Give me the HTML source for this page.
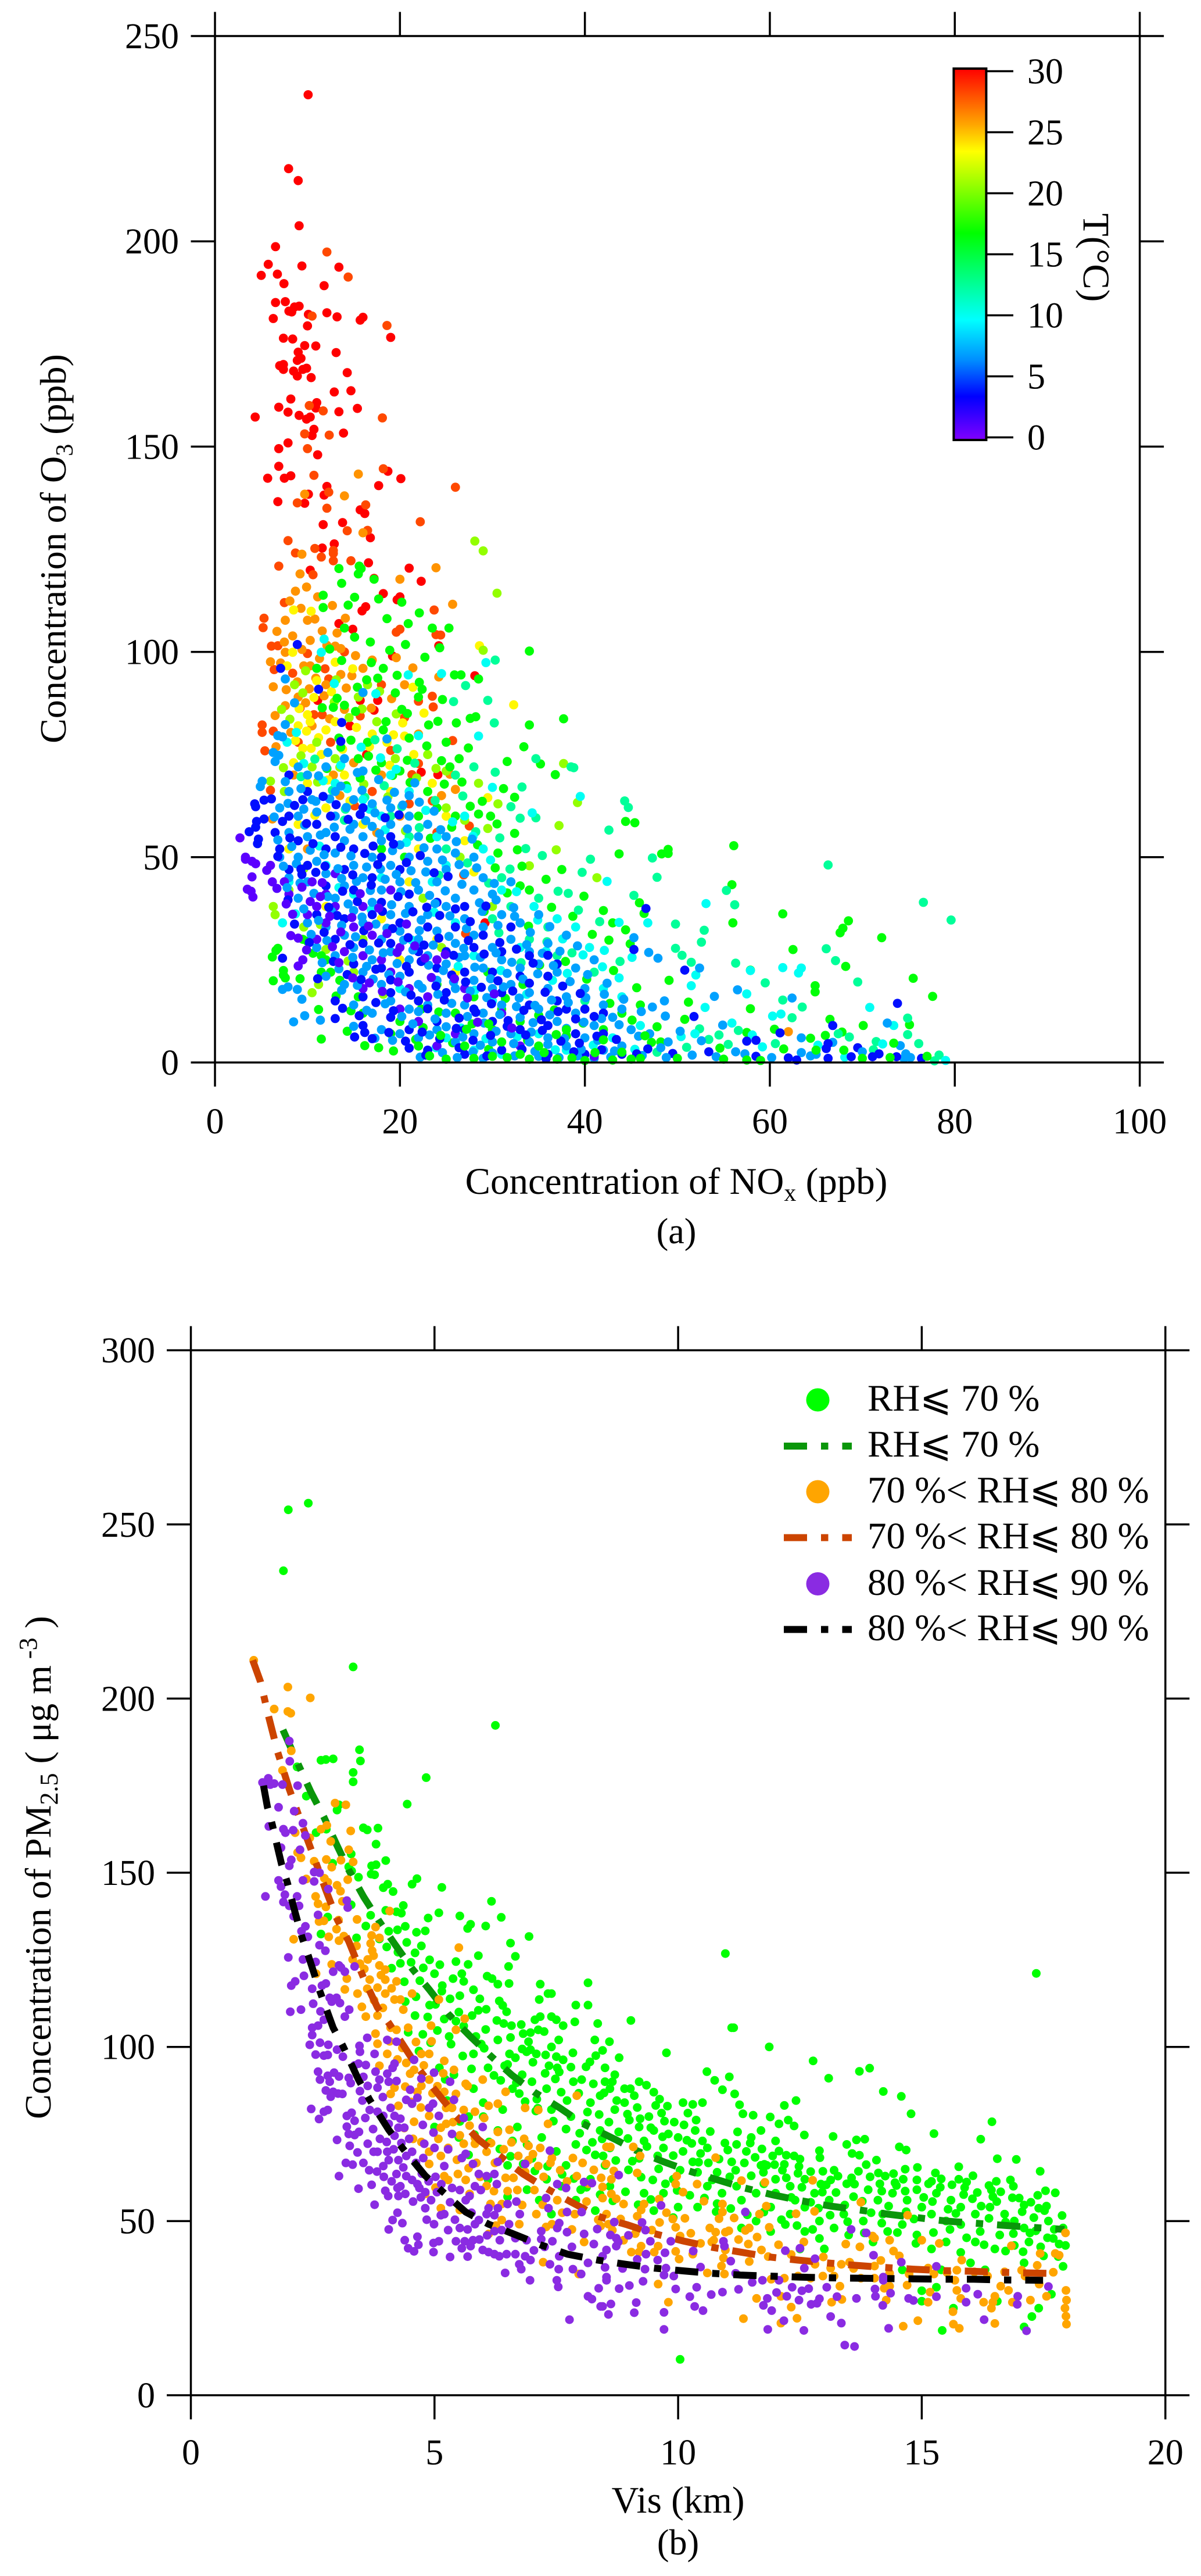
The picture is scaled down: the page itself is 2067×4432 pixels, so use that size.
<!DOCTYPE html>
<html lang="en">
<head>
<meta charset="utf-8">
<title>O3 vs NOx and PM2.5 vs visibility</title>
<style>
html,body{margin:0;padding:0;background:#fff;}
svg{display:block;}
text{font-family:"Liberation Serif","DejaVu Serif",serif;font-size:62px;fill:#000;}
.rel{font-family:"Liberation Serif","DejaVu Sans",serif;font-size:65px;}
.title{font-size:65px;}
.ytitle{font-size:64px;}
</style>
</head>
<body>
<svg id="figure" xmlns="http://www.w3.org/2000/svg" width="2067" height="4432" viewBox="0 0 2067 4432">
<defs>
<linearGradient id="rainbow" x1="0" y1="1" x2="0" y2="0">
<stop offset="0" stop-color="#8000ff"/>
<stop offset="0.117" stop-color="#0000ff"/>
<stop offset="0.217" stop-color="#0090ff"/>
<stop offset="0.323" stop-color="#00ffff"/>
<stop offset="0.557" stop-color="#00ff00"/>
<stop offset="0.777" stop-color="#ffff00"/>
<stop offset="0.85" stop-color="#ffa500"/>
<stop offset="1" stop-color="#ff0000"/>
</linearGradient>
</defs>
<rect width="2067" height="4432" fill="#fff"/>
<g id="dotsA"></g>
<g id="axesA"></g>
<g id="dotsB"></g>
<g id="axesB"></g>
<rect x="1641.4" y="118" width="56" height="639" fill="url(#rainbow)" stroke="#000" stroke-width="4"/>
<g id="cbar"></g>
<text class="title" transform="translate(1865,367) rotate(90)">T(°C)</text>
<text class="ytitle" transform="translate(113,944) rotate(-90)" text-anchor="middle">Concentration of O<tspan dy="12" font-size="42">3</tspan><tspan dy="-12"> (ppb)</tspan></text>
<text class="title" x="1164" y="2054" text-anchor="middle">Concentration of NO<tspan dy="12" font-size="42">x</tspan><tspan dy="-12"> (ppb)</tspan></text>
<text x="1164" y="2139" text-anchor="middle">(a)</text>
<text class="ytitle" transform="translate(87,3213) rotate(-90)" text-anchor="middle">Concentration of PM<tspan dy="12" font-size="44">2.5</tspan><tspan dy="-12"> ( μg  m</tspan><tspan dy="-24" font-size="44"> -3</tspan><tspan dy="24"> )</tspan></text>
<text class="title" x="1167" y="4323" text-anchor="middle">Vis (km)</text>
<text x="1167" y="4395" text-anchor="middle">(b)</text>
<g>
<circle cx="1407.5" cy="2408.5" r="20" fill="#00ff00"/>
<line x1="1349" x2="1466" y1="2488" y2="2488" stroke="#0a960a" stroke-width="12" stroke-dasharray="40 24 12.5 24"/>
<circle cx="1407.5" cy="2566.5" r="20" fill="#ffa500"/>
<line x1="1349" x2="1466" y1="2645.5" y2="2645.5" stroke="#cc4400" stroke-width="12" stroke-dasharray="40 24 12.5 24"/>
<circle cx="1407.5" cy="2725" r="20" fill="#8a2be2"/>
<line x1="1349" x2="1466" y1="2803.5" y2="2803.5" stroke="#000" stroke-width="12" stroke-dasharray="40 24 12.5 24"/>
<text class="rel" x="1493" y="2427">RH⩽ 70 %</text>
<text class="rel" x="1493" y="2506">RH⩽ 70 %</text>
<text class="rel" x="1493" y="2585">70 %&lt; RH⩽ 80 %</text>
<text class="rel" x="1493" y="2664">70 %&lt; RH⩽ 80 %</text>
<text class="rel" x="1493" y="2744">80 %&lt; RH⩽ 90 %</text>
<text class="rel" x="1493" y="2822">80 %&lt; RH⩽ 90 %</text>
</g>
</svg>
<script>
// Panel (a): NOx (x), O3 (y) pairs, grouped by temperature class.
const t30 = [10.07,235.7,7.96,217.7,9,214.8,9.1,203.8,6.55,198.7,5.76,194.4,9.4,194,13.4,193.7,6.75,192,5,191.7,7.46,189.7,11.8,189.2,6.55,185.1,7.6,185.3,9.1,184.2,8.6,184,8,183,8.3,182.8,12.1,182.6,10.1,182.2,13.2,181.6,16,181.5,15.7,180.8,6.3,181.2,10,179.4,19,176.6,7.4,176.4,8.4,176.2,9.7,174.6,10.9,174.5,9,173,13.1,172.9,9.3,171.5,8.9,171,7.4,170,7,169.7,7.4,168.8,8.5,168.4,9.9,169.1,9.5,168.8,8.9,167.2,10.4,166.8,14.3,168,14.7,163.6,12.9,163.3,8.2,161.6,11,160.7,10.9,159.4,6.9,159.6,15.4,159.3,7.9,158.4,13.4,158.5,9.1,157.6,10.3,157.2,9.9,156.7,4.35,157.2,10.7,154.2,10.5,152.7,13.9,153.3,7.9,150.9,6.9,149.5,11.1,148,6.9,145.2,18.7,144,8.2,142.9,7.5,142.3,5.7,142.3,20.1,142.2,17.7,140.5,12.1,140.3,10.1,138.4,11.8,138.2,6.8,136.6,9.7,136.2,15.7,134.6,16.2,133.7,13.8,131.5,11.7,131,16.8,127.8,12.9,126.3,11.6,125.3,16.6,121.7,10.3,119.9,21,120.4,17.2,117.9,22.3,117.2,18.2,114.2,19.7,112.7,20,113.4,15.9,110,16.3,111,13.4,106.9,14.9,105.5,24.2,101.5,19.2,99,28.1,94.2,15.7,88.2,17.6,88.2,17.2,85.8,11.1,88.2,14.6,82,16.4,75,22.3,70.7,24.1,70.1,29.2,34];
const t28 = [12.1,197.4,14.4,191.3,10.5,181.8,18.6,179.5,10.2,160,11.7,158.7,18.1,157,9.7,153.1,12.35,152.8,10,149.5,18.2,144.6,10.7,143,26,140.1,12.3,138.9,8.9,136.3,16.3,135.8,12.1,135,22.2,131.7,14.3,129.5,16.5,129.6,7.9,127.1,10.8,125.2,12.8,124.7,8.7,124.1,12.8,124,11.5,123.1,12.8,122.2,14.7,122.2,6.9,120.9,10.6,118.8,5.3,108.2,5.2,105.9,7.5,112,6.1,101.4,6.8,101.5,10,99.6,6.4,95.7,8.4,94.8,11.9,95.9,12.3,93.4,23.7,110.2,19.6,104.8,20,105.5,23.9,104.2,24.4,104.1,23.5,89.2,23.6,86.6,15.7,84.4,11.6,84.7,10.7,84.7,9.2,86.3,5.1,82.2,5.1,80.4,6.3,80.7,5.4,75.9,25.7,78.4,22,72.8,21.3,70.1,6,66.3,23.5,63.7,27.5,57.6,26.9,45.7,27.1,31.4,15.1,62.5,19,76,20.5,84,12.5,78,18,92,9,78,21,63,24,56,17,66,14,100,22,88];
const t26 = [15.5,143.3,9.7,138.4,14,138,16,129,9.4,123.8,23.9,120.5,9.2,119,20,117.7,8.7,114.8,9.9,115.8,11.1,113.4,6.7,105,7.6,107.7,10,107.7,10.8,108,7.5,102.4,8.4,103.9,10.3,102.8,12.1,101.6,13,101.4,13.6,100.8,7.6,99.9,6,97.6,9.6,96.6,10.3,96.6,6.3,91.5,10.2,91,11.8,89.3,14.2,91.2,13.6,94.5,19.6,98.6,25.7,111.6,24.2,93.9,7.6,86.9,6.5,84.5,6.6,76.9,25.4,70.2,26,66.5,6.2,59.3,12,92,16,96,9,89,14,86,20.5,92,17,98,10.5,82,15,73,12.8,70,22,80,18,70,8.5,70,13.5,65,24.5,65,20,60,17.5,56,10,52,62,7.5,8.1,112.4,9.3,110.6,11.6,105.1,12.7,111.3,14.1,108.2,7.1,97.3,8.9,92.7,9.8,87.6,11.3,98.4,13.2,104.6,15.2,99.1,10.9,93.6,8.2,80.4,12.4,83.7,14.8,94.2,16.9,86.3,19.1,88.6,21.4,96.1,7.7,90.8,9.4,100.6];
const t24 = [8.5,110.2,10.4,109.9,8.4,99.9,13,97.5,14.9,95.9,7.8,96.6,21.4,91.4,32.3,87.1,28.6,101.5,19.3,79.8,20.5,79.5,10,84.7,10.3,83,9.5,76.5,10.4,76.5,12,81,18.6,78,29.5,64.5,11,93,16,90,9,82,11.5,75,8.5,73,14,70,13,83,17,80,21.5,75,23.5,68,25,60,19,66,12,62,16,58,10,68,27,54,9,58,8,52,22,52,21,44,28,46.4,12,38,18,35,24,30,20,25,26,22,9.1,86.2,10.7,88.9,12.6,90.3,8.7,78.4,9.9,80.7,11.2,79.1,13.8,76.3,15.3,81.6,16.7,76.9,20.3,82.7,22.6,85.1,18.9,72.4,12.2,68.8,14.6,63.7,10.8,60.2];
const t21 = [37.7,72.8,29,100.4,30.5,114.3,39.2,63.3,37.2,57.7,34,47.9,36.9,51.8,41.3,45,28.1,127,29,124.6,8.6,92,9.5,90,15.5,89,16.5,92,11,78,7.2,86,14.5,84,17.5,83,10.5,72,13,74,7.5,66,6,68.5,6.3,38,6.5,36,9.6,33,12,27.5,11.2,19,10.5,17,8,42,19.5,74,23,75,25,71,25,62,27,59,29.5,57,30.6,63,28.5,68,26.5,50,22.5,40,16,30,15,22,24.5,28,30,38,9.8,95.4,13.1,93.2,8.1,83.6,9.3,74.7,12.9,87.8,15.9,86.1,17.8,90.4,19.6,84.9,7.4,71.8,11.1,68.3,13.5,71.9,16.1,67.8,18.7,64.7,21.8,69.3,23.9,71.6,20.6,56.4,9.6,47.2,11.4,33.6,14.4,24.7,18.2,16.6];
const t17 = [13.7,116.7,11.7,113.8,11.7,110.8,15.1,113.3,14.4,111.4,17.7,112.9,20.2,112.1,22.1,109.5,23.5,105.8,25.3,105.8,20.9,106.9,16.8,102.4,24.3,101,18.6,108.1,14,105.8,34,100.2,15.5,119,15.6,120.9,15.8,120.3,13.4,120.3,17.2,117.7,16.9,97.4,18.2,96,25.9,94.4,26.6,94.4,28.5,93.4,22.1,92.6,16.4,93.2,22.4,90.9,22,89,11,96,19.5,90,20.2,86,20.8,85,14,87,12.8,86.5,15.2,85.5,23.1,82.2,18.5,83,18.2,81,21,79,25,78,16.5,78,14.7,78.5,13.4,79,28.2,84.2,27.6,83.8,34,82.2,37.7,83.7,33.4,76.9,35.2,72.7,31.6,73.3,36.8,70.1,32.4,64.6,30.5,58.1,32.4,55.8,32.7,51.8,37.5,47,39.9,40.5,24.5,73.5,25.4,72,26.4,74,18,73,15.5,74,20,71,23,66,22,60,24,62,26,60,28.5,60.5,29.8,60,28.4,53,30.6,51,20.5,50,18,52,34,42,33,43,42,37,43,34,6.2,25.7,6.6,27.3,6.8,27.8,7.4,22.4,7.4,21.3,7.6,20.6,6.3,19.9,9.5,30,10,29.5,11.5,26,12,25,12.5,22,11.5,22,13.5,20,11.2,12.9,15.5,16,16,12,14.3,7.6,16.2,4.1,17.7,3.6,11.5,5.7,20,10,19,7,22.5,8.5,22.3,13,26,12,28,16,24,19,29.5,22,31,13,30,8,33,10,33.3,19,35,11.5,38,6.5,42,8,44,12,46,14,43.7,50.8,48.3,50.8,49,51.9,49,50.9,56.1,52.8,44.4,58.7,45.4,58.4,55.9,43.3,45.9,38.9,46.4,36.3,61.4,36.2,68.5,34.5,56,34,67.9,32.7,67.6,31.6,44.4,32.3,72.1,30.4,62.5,27.5,44.9,28.9,68.2,23.4,57.9,22.5,75.5,20.5,64.9,18.7,64.9,17.2,49.1,20,77.6,16.1,51.2,14.7,57.9,13.1,50.8,10.5,66.5,10.5,70.1,9,75.1,9.2,60.5,8.1,66,6.6,67.8,7.4,57.5,7.3,47.2,4.9,48.2,5];
const t17c = [12.4,100.7,13.7,97.9,15.1,103.6,18.9,100.4,20.6,101.8,22.7,98.7,24.6,88.4,26.1,82.7,27.4,76.6,24.1,83.1,19.7,94.3,17.6,93.6,15.4,91.4,13.2,88.7,11.6,86.4,20.8,73.6,22.9,77.1,24.8,67.8,26.7,68.3,28.9,63.6,31.2,66.7,27.6,62.4,25.6,57.3,23.3,54.6,21.1,68.2,19.2,69.9,17.4,71.2,15.7,69.3,13.6,76.8,12.1,71.6,16.6,74.6,14.2,67.4,30.3,47.4,33.2,47.8,35.8,44.6,31.6,41.3,29.1,36.8,33.9,33.2,36.4,37.8,38.7,35.6,40.8,31.2,42.6,29.8,35.1,23.7,37.9,24.6,40.2,20.3,43.1,22.4,45.6,18.2,36.7,12.8,39.8,9.6,42.7,14.4,45.1,10.3,47.8,8.7,33.8,5.4,29.6,3.2,25.7,4.8,21.7,5.6,19.3,2.8,27.8,9.4,24.2,12.3,31.4,15.6,13.1,16.2,14.7,12.6,9.2,20.4,10.6,26.6];
const t12 = [27.1,91.8,25.8,87.9,30.2,82.7,29.5,88.2,30.3,98,34.7,74,38.5,72,38.8,71.8,30.3,70.7,33.2,67.1,32,62.3,34.7,59.6,33,59.5,35.4,50.4,40.6,49.5,39.7,46.3,38.2,41.2,44.3,63.7,44.7,62.1,42.6,56.6,47.3,49.8,66.3,48.1,47.8,45.1,55.3,41.9,45.3,40.7,56.2,38.4,76.6,39,79.6,34.7,49.8,33.7,52.9,32.2,52.6,29.3,66.1,27.7,49.8,27.8,50.5,26.1,51.5,24.4,56.3,24.2,67.1,24.8,69.5,19.6,59.5,19.4,61.4,15.2,63.5,13.5,62.4,10.9,52.4,8.2,54.5,6.7,56.6,7.8,74.9,10.8,74.9,6.8,67.4,7,68.6,6.2,60.6,4.6,71.5,5.1,76.1,4.6,71.2,3.1,78.3,1.8,77.8,0.4,51,3.7,55.5,4.4,47.8,2.5,53.4,5.6,26,70,28,72,31,45,25,52,21,55,19,60,17,62,14,59,35,40,36,33,30,35,37,26,41,22,40,15,34,30,32,38,17.3,78.6,19.7,76.4,21.6,72.9,23.8,63.8,26.8,64.9,28.2,56.2,30.8,54.7,33.6,52.1,27.3,48.6,29.6,43.7,31.9,47.1,24.2,45.6,22.1,57.2,20.2,62.3,18.3,67.4,16.2,64.6,14.1,61.7,12.7,66.3,10.8,73.9,9.3,69.6,37.1,41.7,39.3,37.1,41.6,34.3,35.9,29.4,38.6,26.7,43.8,24.6,33.1,24.3,30.7,31.6];
const t10 = [11.8,103.1,11.5,99.9,12.9,92.3,17.4,89.8,8.8,80.4,7.8,78,22,79.6,28.5,79.5,29.3,97.4,24.5,94.7,20.9,94.4,34.3,60.8,30,67,39.5,64.8,42.4,44.1,53.1,38.7,46.8,34,43.7,34.1,42.1,27.3,45.1,25.6,57.9,22.4,61.4,23.1,63.4,23,63.1,21.8,52,21.3,70.8,13.4,51.5,18.7,57.5,16.7,53,13.4,73.4,9,55.9,9.6,60.3,11.3,61.2,11.8,50.4,6.3,51.9,7,58.1,6.7,59.2,3.8,65.2,4.2,68.1,1.3,72.2,4.5,79,0.5,34.5,38,37,35,39,33,40.5,28,36.5,20,42,18,44,16,25,48,24,55,27,60,29,52,31,42,33,28,28,26,26,34,23.5,44,22,28,18,45,15,41,12,48,13,68,16,64,18,60,19,70,21,66,8,44,7.3,34,20,18,30,15,35,7,25,6,28,3,31,2,38,3,43,6,46,9,13.6,72.4,15.8,76.8,17.9,74.2,19.6,71.4,11.7,68.6,9.6,72.8,14.3,66.7,16.7,61.7,18.4,56.7,20.7,53.6,22.8,61.4,25.7,58.6,27.9,55.1,29.8,49.3,32.6,41.6,34.9,34.7,37.6,30.1,39.8,26.2,41.9,23.3,43.7,20.6,35.8,27.1,38.1,21.7,33.7,16.6,30.9,22.4,28.1,17.6,26.3,23.4,23.7,36.6,21.3,29.8,16.9,37.2,13.4,42.6,11.3,52.7,8.7,36.2,26.6,8.4,23.9,3.6,32.7,6.3,36.8,3.1,40.9,4.2,45.4,3.2,29.3,5.8];
const t7 = [8.6,87.6,16,90.1,7.6,93.4,7.6,82.3,6.8,79.6,7.3,79.3,12.2,75.5,18.6,78.8,6.3,75.5,6.9,74.8,6.5,73.3,5.1,68.5,4.9,67.2,9,72,10,70,12,72,14,74,16,71,8,66,10.5,64,13,66,15,64,17,63,19,62,21,65,7,62,9,60,11,61,13,60,15,58,17,57.5,19,58,21,60,23,58,25,55,8,56,10,55,12,56,14,54,16,55,18,54,20,53,22,55,24,52,26,51,28,50,7,50,9,50,11,49,13,51,15,48,17,50,19,48,21,50,23,49,25,47,27,46,29,45,8,45,10,44,12,46,14,43,16,45,18,42,20,44,22,42,24,44,26,40,28,42,30,41,32,44,9,40,11,38,13,40,15,37,17,39,19,36,21,38,23,36,25,38,27,35,29,33,31,36,33,34,35,36,10,34,12,33,14,31,16,34,18,30,20,32,22,30,24,32,26,29,28,31,30,28,32,30,34,27,36,29,38,31,11,28,13,26,15,28,17,25,19,27,21,25,23,26,25,24,27,26,29,23,31,25,33,23,35,24,37,22,39,23,41,25,12,21,14,19,16,22,18,19,20,21,22,19,24,20,26,18,28,20,30,18,32,19,34,17,36,18,38,16,40,18,42,14,44,13,7.3,17.8,7.9,18.4,8.9,17.8,9.4,15.4,8.5,9.9,9.7,11.4,11.4,10.3,15,8.8,17.3,5.9,15,14,17,12,19,15,21,13,23,14,25,12,27,14,29,12,31,14,33,11,35,13,37,10,39,12,41,9,43,11,45,8,47,7,18,8,20,7,22,6,24,8,26,5,28,7,30,5,32,7,34,5,36,6,38,4,40,6,42,3,44,4,22.2,1.3,29,1,35,1.5,41,1,45.3,30.4,46.9,26.8,47.9,25.4,52.4,23,54,16.1,56.5,17.7,62.4,15.7,48.6,15,47.3,13.5,48.7,11.3,72.7,9.6,54.9,9.1,50.3,7.6,63.4,6,49,5,52.6,5.3,74.1,4.1,56.3,2.6,63.4,2.4,65,2,66.8,4.9,74.7,2.1,74.5,1,75.2,1.2];
const t4 = [8.9,101.8,7.1,96,11.2,90.9,13.7,82.8,13.6,78.2,46.6,37.5,45.3,27.5,50.8,22.5,73.8,14.4,51.8,11.2,66.8,9,61.1,7.2,57.5,5.2,58.5,5.4,46.8,3.3,49.5,2.2,53.4,2.6,58.5,1.5,66.1,3.4,66.3,4.6,69.5,3.6,68.8,1.4,66.3,1,62,1.1,62.9,0.6,71.8,2.1,71.1,1.4,73.7,1.4,76.4,1,4.3,63,4.4,62.3,5.3,63.9,3.7,56.2,4.4,57.3,5.3,59.3,4.5,58.7,4.7,54.4,4.6,53.3,7.3,25.4,13,10.7,15.1,6.2,16.2,7.3,21,3.5,8,70,10,66,8,60,11,58,13,55,6.5,56,9,54,7,52,12,52,15,52,18,50,10,48,14,47,17,45,20,47,8,47,12,43,15,42,18,39,21,41,24,39,27,38,11,36,14,35,17,36,20,34,23,33,26,33,29,31,32,33,13,30,16,29,19,29,22,27,25,27,28,28,31,27,34,26,37,24,15,24,18,23,21,22,24,23,27,22,30,22,33,21,36,21,38,13,42,12,13,15,16,16,19,17,22,15,25,17,28,13,31,17,34,14,37,15,40,13,16,9,19,11,21,8,24,10,27,8,30,10,33,8,36,9,39,7,42,7,23,3,27,2,31,3,36,2,40,2,44,2,12.5,60,16,62,19,55,9.5,64];
const t1 = [2.7,54.7,3.3,50,3.3,49.5,4,49,4.4,48.4,4,45.2,3.5,42.2,3.9,41.7,4.1,40.3,6,48,6.2,44,7.5,44,8,41,8.2,30.9,9,30.3,9,23.5,9.5,25,10,36,11,38,12,41,13,38,15,33,14,27,16,26,18,25,19,22,21,18,23,16,27,18,31,12,17,31,20,28,24,25,13,46,16,38,19,42,11,30,22,10,26,7,33,4,41,1.5,10.5,44,12,34,16,18,20,13,24,4];
// Extra estimates for the dense core of panel (a).
const t7b = [7.6,68.4,9.3,66.7,11.2,69.8,13.6,67.3,15.4,70.6,17.7,68.9,19.4,65.8,21.6,68.1,6.4,59.8,7.9,63.1,9.6,61.7,10.9,63.6,12.4,64.2,14.2,62.1,15.9,66.3,17.3,60.8,18.6,63.9,20.3,62.7,22.1,63.4,23.7,61.2,6.8,54.2,8.3,52.6,9.7,57.8,11.4,55.4,12.9,57.3,14.6,56.8,16.3,58.9,17.8,55.7,19.2,51.6,20.8,56.9,22.6,52.3,24.4,56.7,26.1,53.8,27.8,54.4,7.4,47.8,8.8,48.4,10.3,51.7,11.8,50.6,13.3,47.2,14.7,50.3,16.4,47.6,17.9,47.1,19.6,45.8,21.2,46.7,22.8,46.4,24.6,49.3,26.4,48.2,28.3,47.4,30.2,43.6,7.8,42.6,9.2,43.7,10.7,41.2,12.2,40.4,13.7,44.8,15.3,44.1,16.8,41.9,18.4,44.6,20.1,41.6,21.7,43.8,23.2,40.7,24.9,41.8,26.7,43.4,28.6,38.9,30.4,39.6,32.3,37.7,9.6,37.4,11.2,34.6,12.6,36.8,14.4,38.6,15.9,35.4,17.4,33.7,19.1,38.4,20.6,36.3,22.3,34.7,23.8,38.7,25.4,35.7,27.2,32.6,28.9,36.8,30.6,33.4,32.4,35.6,34.1,31.7,36.2,33.1,10.4,31.2,12.1,29.7,13.7,33.4,15.2,30.6,16.7,27.4,18.6,32.7,20.4,29.8,22.1,32.1,23.6,28.6,25.3,30.7,26.9,27.8,28.7,25.6,30.4,26.7,32.1,24.4,33.7,28.7,35.4,26.6,37.3,27.1,39.2,28.4,11.6,24.3,13.4,22.8,14.9,25.6,16.4,23.4,18.2,26.7,19.7,24.1,21.4,27.4,23.1,23.7,24.7,22.4,26.4,25.6,28.1,23.2,29.8,20.4,31.6,21.7,33.3,20.3,34.9,21.6,36.6,23.6,38.4,19.7,40.3,21.4,42.4,19.3,13.7,17.6,15.4,18.8,17.1,20.3,18.8,21.4,20.6,17.2,22.4,18.1,24.1,16.6,25.8,19.6,27.6,17.4,29.4,15.8,31.2,18.4,32.9,15.7,34.6,13.9,36.4,15.2,38.2,14.6,40.1,15.8,42.1,16.6,44.2,15.4,46.1,12.4,16.4,12.7,18.4,14.3,20.2,11.2,22,12.4,23.8,10.6,25.6,14.4,27.3,11.2,29.1,9.6,30.8,11.7,32.6,13.6,34.4,9.7,36.2,11.6,38,8.3,39.9,9.8,41.8,10.7,43.7,9.2,45.8,6.4,19.2,5.4,21.4,9.4,23.2,6.7,25,8.7,26.8,6.2,28.7,4.2,30.4,7.6,32.3,4.6,34.2,7.4,36,4.4,37.8,5.8,39.6,3.2,41.4,5.4,43.2,2.8,46.2,1.7,48.2,3.6,24.6,2.4,26.2,1.2,27.9,2.6,30,2.3,32.4,1.6,34.6,2.7,37.2,1.2,39.2,1.6,42.8,1.3,48.8,1.2,51.6,1.8,54.2,1.4,57.3,2.1,60.2,1.2,64.4,1.6,70,2.6];
const t4b = [6.1,64.2,7.3,58.7,8.6,62.6,9.9,58.2,11.7,64.8,13.1,62.8,14.4,59.2,15.7,60.4,17.1,52.7,18.4,59.6,19.9,60.3,6.8,50.2,8.1,54.7,9.3,47.1,10.6,53.3,11.9,47.8,13.6,52.4,14.9,45.7,16.2,50.9,17.6,48.2,19.3,53.2,20.7,48.7,22.2,50.4,23.7,46.2,25.2,45.3,7.9,39.6,9.4,45.8,10.9,46.3,12.3,37.8,13.8,41.7,15.4,39.2,16.9,43.2,18.1,36.8,19.8,40.4,21.4,36.7,22.9,37.8,24.3,35.8,26,37.4,27.6,34.3,29.3,38.1,8.6,33.7,10.2,29.2,11.8,31.7,13.2,35.8,14.6,28.7,16.1,32.1,17.7,29.1,19.2,32.6,20.9,30.4,22.6,28.6,24.2,30.3,25.8,26.1,27.4,29.7,29.1,26.4,30.8,29.2,32.6,27.6,34.4,24.2,36,26.1,11.1,20.4,12.8,24.6,14.3,21.4,15.8,20.2,17.4,22.7,19,20.1,20.7,23.4,22.3,24.6,23.9,18.6,25.6,21.3,27.1,19.6,28.8,18.3,30.6,19.9,32.2,17.4,34,19.3,35.7,17.1,37.6,18.6,39.5,16.8,13.8,13.2,15.6,11.4,17.4,14.6,19.3,12.6,21.2,16.4,23,13.1,24.8,15.2,26.4,10.8,28.2,12.2,29.9,14.3,31.7,10.2,33.4,12.7,35.3,10.4,37.1,12.4,39,10.6,41,11.2,17,5.8,18.8,7.3,20.6,5.2,22.4,7.4,24.3,5.8,26.1,8.3,27.9,5.4,29.8,6.6,31.6,8.8,33.6,6.7,35.4,7.8,37.4,5.2,39.4,4.7,41.3,6.4,43.4,5.6,22.8,1.8,26.4,3.6,29.4,1.6,33.2,3.2,35.8,0.9,38.8,2.6,41.8,3.1,45.6,2.1];
const t1b = [5.6,46.8,6.7,42.4,7.7,38.6,8.4,36.1,9.4,42.7,10.3,39.2,11.6,43.8,12.4,35.6,13.6,31.8,14.8,35.3,15.7,41.1,16.6,33.2,17.7,37.6,18.6,31.4,19.7,26.8,20.7,33.7,21.6,28.4,22.7,25.4,23.4,20.7,24.9,26.3,25.9,20.4,27.3,15.7,28.4,9.8,30.2,16.7,32.1,8.4,13.4,24.3,14.9,20.6,16.7,19.4,18.1,17.3,19.8,19.6,12.7,28.2,11.4,40.4,9.9,27.4];
const t17b = [23.2,1.6,25,0.8,28,1,30,1.5,33,2,37,0.8,40,0.5,43,0.6,45,0.8,31,5,35,4,38,8,42,5.5,44,2.5,46,1,50,1,55,0.8,57.5,0.6,59,0.5,65,3,70,1,73,1.2,77,1.5,46.5,6.5,34,0.8,27,4,22,4,64.4,5.9,61.5,3.3,54.6,3.5,73.4,4.7,68,3,24.4,6.6,27.2,8.1,29.6,9.4,31.6,1.2,35.6,2.4,38.6,1.1,41.1,2.4,36.9,6.8];
const xTicksA = [0,20,40,60,80,100];
const yTicksA = [0,50,100,150,200,250];
const cbarTicks = [0,5,10,15,20,25,30];

// Panel (b): visibility (x), PM2.5 (y) pairs, grouped by RH class.
const greenDots = [2.41,256.1,2,254.2,1.9,236.7,3.33,209.1,6.25,192.3,3.46,185.3,3.48,182.1,2.67,182.3,2.77,182.5,2.92,182.7,3.33,178.8,3.33,176.1,4.83,177.3,2.18,180.4,2.37,172,4.44,169.7,3,168,3.04,169.5,3.54,162.9,3.62,162.3,3.84,162.8,2.57,161.5,2.78,162.5,3.8,158.2,3.29,155.4,4,153.5,3.71,152,3.8,152.3,2.91,152.7,3.24,151.7,3.3,150.5,3.7,149.6,3.77,149.4,3.44,148.7,4.64,148.3,4.54,146.7,5.15,145.8,4.04,146.7,3.95,145.7,4.15,144.6,6.17,141.8,3.29,140.8,4.36,140.6,4,139.2,4.22,138.8,4.32,138.4,5.09,138.5,3.69,137.8,4.87,137,5.52,137.6,6.37,137.2,2.81,137.3,5.74,135.2,5.68,134,6.05,134.7,3.59,134.7,4.4,134.6,4.06,133.2,4.24,133.6,4.63,132.9,4.81,133.3,2.67,132.4,3.4,131.3,6.94,131.7,6.56,129.8,4.43,130,4.73,129,3.87,131,8.15,118.4,7.33,115.3,7.4,115.3,7.17,118,7.15,113.6,7.9,112,8.15,112,6.66,126,6.52,123.1,6.53,118.2,5.9,126.2,5.44,124.5,5.69,123.7,5.56,121,6.3,118,6.08,120.3,6.18,119.6,5.6,118.8,5.16,117.6,5.52,114.7,5.32,113.8,5.93,113.8,6.33,113.2,6.4,111.9,6.48,110.1,5.9,110.5,5.77,109,7.4,108.7,7.5,107.8,7.17,108.7,7.88,107.2,7.06,107.8,7.64,106.1,6.42,106.7,6.58,106.1,6.78,106.4,7.13,104.9,7.25,104.4,6.97,104.1,6.82,103.8,8.29,102,8.35,106.7,7.55,102,7.4,100,7.84,98.3,6.93,101.5,6.66,96.9,6.54,98,7.5,97.2,7.64,96.3,8.31,97.5,8.19,95.7,7.35,94.6,8.11,94.3,7.52,94,6.89,98.6,7.09,98,6.97,99.2,4.9,125,4.6,127,5,121,4.7,119,4.3,124,5.15,116,4.9,112,5.5,110,5.2,108,4.6,109,4.4,113,5.6,106,5.85,103,5.3,103,6.05,105,6.3,102,6.5,95,5.8,98,6.1,94,6.8,92,7,90,7.3,88,6.6,88,7.1,85,7.6,87,7.85,90,8.2,84,8.5,90,7.4,82,7.8,80,8.1,78,8.4,76,8.7,82,8.9,88,6.4,82,6.7,77,6.9,72,7.2,74,7.5,70,7.9,72,8.3,69,7.7,66,8.5,66,8.2,62,8.6,60,7.9,56,8.6,71,9,79,5.8,88,5.4,92,6,84,5.7,80,5.1,94,9.03,107.6,8.59,101.5,9.76,98.3,8.79,96.9,8.45,99,8.7,92,8.5,94,8.65,90,8.4,86,8.6,88,9.2,90,9.35,89,9.02,88,9.1,86,8.9,84,9.5,87,9.62,85,9.66,81,9.78,83,10.1,84,10.3,83.5,10.5,84,10.2,81,10.37,79,10.35,76,10.5,73,10.6,71,9.4,80,9.2,77,9.5,76,9.8,75,10,74,9.3,73,9.7,71,10.1,70,10.3,67,9.2,68,9.6,65,9.9,62,10.4,64,10.8,64,11.1,67,11.2,60,11.5,63,11.7,66,10.9,58,11.3,56,11.6,58,10.6,60,10.8,55,9.3,58,9.7,58,10,54,10.4,54,9.5,53,9.9,51,11.1,105.5,10.97,126.8,17.35,121.1,11.14,105.5,11.87,100,10.59,92.9,10.75,90.4,11.05,91.4,10.91,87.7,11.16,86.5,12.77,96,13.09,91,13.72,93,13.93,93.9,14.21,87.2,14.58,85.8,14.78,80.8,16.44,78.5,15.25,75.1,16.21,73.5,16.55,67.9,16.94,67.7,17.43,64.3,17.54,58.7,17.74,58.1,11.26,83.4,11.54,80.4,11.33,80.8,12.18,83.2,12.42,84.6,11.89,79.9,12.07,77.9,12.26,79,12.38,77.3,12.59,74.7,13.18,74.3,13.46,72,13.66,73.3,13.83,73.5,14.54,71.3,14.68,70.4,14.07,67.5,13.57,69.4,13.72,68.9,13.86,66.2,12.9,70.2,12.91,68.2,12.07,70.1,12.22,68.9,12.38,68.7,12.5,67.8,12.48,65.7,12.18,66.3,11.77,66.3,11.82,66,11.75,64,12.97,64.3,13.28,62.9,13.13,61.8,12.93,60.6,13.56,62.4,14.11,63.8,14.25,62.9,14.45,61,14.62,62,14.66,64.9,14.91,65.4,15.2,61.4,15.28,63.8,15.76,65.6,15.76,62,16.05,63,15.92,61.2,16.43,58.9,16.53,61.4,16.82,61.8,16.88,60,16.46,57,17,56.6,17.24,55.4,17.4,53.7,17.52,53,11.2,72,11.5,74,11.4,70,11.7,76,12,73,12,62,12.3,60,12.6,62,12.8,58,12.4,56,12,58,11.9,54,12.3,52,12.6,54,12.9,50,13.1,56,13.4,52,13.6,57,13.9,59,14.1,56,14.4,58,14.2,52,14.7,56,14.9,59,15,54,15.3,58,15.6,56,15.2,52,15.5,50,15.8,54,15.8,49,16.1,52,16.4,54,16.7,52,16.9,50,16.2,47,16.6,46,17.1,48,17.3,51,17.6,50,17.9,48,17.95,43,17.7,45,17.2,44,16.9,43,16.5,42,16.1,44,15.8,41,15.5,44,15.2,42,14.9,46,14.6,49,14.3,47,14,44,13.8,50,13.5,46,13.2,48,12.9,45,12.6,47,12.2,49,11.9,47,11.6,50,11.3,48,12.5,42,13,42,16,38,16.3,36,17.1,38,17.5,40,17.9,37,15.4,36,14.6,36,17.66,29,17.4,25,15.65,25,16.55,27,15,30,15,27,15.3,31,17.1,19.6,15.42,18.6,17.26,22.6,10.04,10.3,6,80,6.3,76,6.6,73,5.5,74,5,77,7,68,6.5,66,5.7,69,6.1,62,7.3,62,7.6,60,6.9,59,7.15,56,8,59,8.3,53,7.4,52,6.5,57];
// Extra estimates for the dense green mass of panel (b).
const greenDots2 = [4.12,122.6,4.38,118.7,4.62,114.4,4.86,108.6,5.06,104.7,5.34,100.8,5.58,97.4,5.76,93.7,6.02,99.6,6.22,91.8,6.44,94.6,6.68,89.7,6.86,84.3,7.08,81.6,7.27,92.4,7.48,90.8,7.72,84.6,7.96,86.7,8.14,81.3,8.38,80.6,8.58,78.4,8.78,75.6,8.97,73.7,9.16,82.6,9.36,71.4,9.54,83.2,9.72,78.7,9.9,68.8,10.12,77.6,10.28,72.3,10.46,69.4,10.66,75.7,10.84,67.8,11.02,70.4,11.18,64.6,11.36,66.7,11.58,68.3,11.76,60.7,11.94,68.7,12.14,64.6,12.32,56.8,12.54,59.7,12.72,55.4,12.88,53.7,13.04,60.4,13.24,58.2,13.42,54.6,13.62,60.6,13.78,55.7,13.96,52.4,14.14,60.7,14.32,54.3,14.48,60.2,14.68,52.7,14.84,50.6,15.04,56.8,15.22,55.6,15.38,59.7,15.54,53.4,15.7,52.2,15.86,57.6,16.04,56.4,16.22,54.3,16.38,50.8,16.54,55.6,16.72,49.7,16.88,46.4,17.06,52.7,17.22,46.6,17.38,57.4,17.56,54.3,17.72,47.6,17.88,51.6,4.02,128.7,4.25,127.2,4.52,124.3,4.77,122.7,5.11,123.6,5.38,119.6,5.8,116.4,6.06,110.8,6.28,107.6,6.56,102.7,6.8,99.4,7.02,95.6,7.28,97.7,7.56,92.8,7.8,94.2,8.02,90.6,8.26,89.4,8.48,86.8,8.74,84.6,8.96,80.7,9.22,79.4,9.44,76.8,9.68,74.2,9.92,78.4,10.18,73.2,10.42,66.9,10.7,61.8,10.96,72.4,11.22,75.6,11.48,72.4,11.72,70.7,11.98,66.2,12.22,62.4,12.46,63.7,12.72,64.2,12.96,58.3,13.2,64.6,13.46,60.7,13.7,64.3,13.94,62.7,14.18,58.6,14.42,63.6,14.66,58.6,14.9,61.8,15.14,60.7,15.4,62.1,15.62,60.4,15.88,59.6,16.14,58.2,16.38,60.2,16.62,58.4,16.86,56.7,17.1,54.6,17.34,47.2,17.58,45.2,17.82,43.4,5.02,112.2,5.44,107.4,5.96,100.8,6.36,90.4,6.74,86.6,7.12,82.4,7.44,78.7,7.7,76.4,7.98,75.2,8.24,72.6,8.46,68.7,8.72,67.4,8.98,64.7,9.24,62.6,9.48,61.8,9.74,60.7,9.98,58.8,10.24,57.4,10.54,56.6,10.78,52.7,11.08,53.6,11.42,51.8,11.76,52.6,12.12,50.4,12.44,48.7,12.76,47.6,13.12,51.7,13.48,49.8,13.82,46.6,14.18,49.4,14.5,46.7,14.88,43.6,15.24,46.7,15.58,47.6,15.92,45.2,16.28,43.2,16.72,41.4,17.08,41.2,17.44,42.6,17.8,39.8,6.12,72.7,6.34,70.7,6.56,68.6,6.82,66.4,7.06,64.4,7.32,65.7,7.62,63.4,7.86,62.2,8.12,59.7,8.4,57.6,8.66,55.8,8.92,58.4,9.18,54.7,9.44,56.2,5.26,84.6,5.52,78.6,5.82,74.8,4.68,98.8,4.92,101.2,5.22,90.7,4.46,104.2,4.76,103.6,8.12,70.4,8.44,73.6,9.06,67.2,9.58,68.7,10.04,64.6,10.62,66.7,11.06,62.7];
const orangeDots = [1.29,211,1.99,203.3,2.45,200.2,1.71,197,1.99,196.3,2.05,195.8,2.06,185,1.88,179.4,2.96,170,3.18,169.5,3.28,162,2.79,163.6,2.67,162.5,2.14,161.5,2.44,160,2.87,159,3.24,156.6,2.19,155.8,2.26,154.3,2.53,153.3,2.78,153.8,3.08,153.6,3.33,153.1,2.89,151.6,2.37,148.2,2.74,148.4,2.81,147.3,3.22,148,3,146.4,3.07,144.7,2.56,143.2,2.61,141.1,2.77,140.2,3.11,141.8,2.63,136,2.73,136.2,3.03,136.4,3.41,136.6,4.08,139,2.99,133.8,3.79,134.4,3.71,132,3.87,131.3,2.83,131.6,3.14,131.8,3.04,130.5,2.11,130.9,3.4,129,3.69,129.7,5.5,128.5,2.57,121,2.89,123.7,3.16,116.5,3.42,115.3,3.2,119.6,3.32,125.1,3.47,123.9,3.63,125.1,3.75,126.2,3.87,123.4,3.99,122.2,3.67,119.3,3.83,117,3.99,119.3,4.22,118.8,3.99,115.3,4.18,113.6,4.3,113.6,4.54,115.3,5.09,113.6,3.51,111.5,3.59,108.7,3.83,109,3.79,103.8,3.83,100.9,4.1,105.5,4.22,104.9,4.46,105.5,4.93,106.1,5.2,96,4.03,98,3.87,94.6,4.18,88.3,4.1,86.5,4.58,93.4,4.5,92.3,4.73,98,4.89,98,5.44,104.9,5.62,108.1,5.99,90.6,5.68,88.8,6.11,83.1,6.3,83.7,6.46,87.1,6.3,75.6,6.54,76.2,6.93,71.6,7.17,71,7.13,65.8,6.93,67.5,6.86,64.1,7.41,68.1,7.84,68.1,7.92,62.9,8.27,64.7,6.62,62.4,6.46,62.4,5.83,72.2,6.07,69.9,5.6,72.2,5.28,71,5.13,68.7,4.89,69.9,4.73,72.7,4.89,66.4,5.2,62.9,5.48,63.5,5.64,61.8,5.28,61.8,5.83,73.9,5.13,76.8,5.24,77.9,5.6,81.9,5.36,82.5,4.26,83.1,4.58,78.5,4.89,80.2,4.89,90.6,4.73,88.8,4.65,87.1,5.2,87.1,5.24,82.5,5.44,86.5,5.64,89.4,5.4,93.4,5.83,81.4,7.13,81.9,6.86,82.5,7.92,86,7.33,77.9,7.41,49.1,7.09,52,6.15,54.9,6.74,49.1,6.7,58.9,7.05,58.9,6.11,46.3,7.52,56,7.88,52,8.07,44,7.29,48.3,7.23,38.2,7.96,34.8,5.13,53.7,5.52,53.2,6.38,50.3,4.81,57.8,6.07,60.1,6.38,54.9,9.08,71.3,9.22,68.7,8.53,71.3,8.61,71.3,8.52,66.4,9.16,63.8,9.97,62.9,9.95,60.6,10.39,60.6,10.77,68.2,10.1,58.3,8.63,62,8.45,59.8,8.45,56.6,8.63,57.8,8.73,56.4,8.88,54.9,9.3,54.9,9.24,53.2,9.16,51.4,8.53,52,8.41,48.6,9.61,56.3,10.53,55.7,9.89,50.6,9.95,48.2,9.62,49.6,8.88,44.5,8.65,47.4,8.57,49.1,9.24,42.8,9.04,41.1,9.2,41.1,9.51,41.1,9.59,42.8,9.95,41.3,10.02,39.1,10.3,40.5,10.04,45.7,10.26,46.5,9.59,31.9,9.8,26.7,10.65,48,10.77,46.8,10.97,46.8,11.04,47.2,10.69,44,10.73,44.5,10.91,54.9,10.91,52.6,11.15,50.9,11.38,47.3,11.46,48,11.3,61.6,11.78,61.1,11.81,54.3,11.67,52,11.87,48.2,12.42,52.1,12.8,52.8,12.76,61.7,13.75,55.4,13.99,45.7,14.03,45.1,13.44,43.4,13.73,42.6,14.34,44.5,14.71,51.7,15,44.5,15.36,43.6,16.84,42.9,17.43,40.7,17.74,40.7,17.82,40.2,17.37,37.3,15.82,38.8,10.97,41.7,10.93,39.4,10.89,37.1,10.95,34.8,10.6,35.1,11.44,43.4,11.71,41.7,11.46,38.4,11.85,39.8,12.58,44,12.81,37.6,13.13,36.5,13.35,37.6,13.52,38.2,14.03,37.1,14.42,41.4,14.54,40,14.34,35,12.97,34.2,13.2,34.2,13.32,31.3,12.46,34.2,12.72,33.6,12.18,33.6,13.75,33.6,14.03,33.6,14.23,30.7,14.34,31.3,14.7,31.6,15.13,36.5,15.17,29.6,15.25,34.8,15.72,35.9,15.68,33,15.72,30.1,15.8,27.8,15.13,26.7,16.35,34.2,16.62,31.3,16.5,28.4,16.46,26.7,16.27,26.7,16.43,25,16.78,30.1,16.86,26.7,17.23,27.3,17.56,28.4,17.41,31.9,17.7,35.3,17.05,35.9,17.95,46.6,17.96,30.1,17.97,27.3,17.94,25,17.96,22.7,17.97,20.4,11.34,22,12.32,25.3,12.11,20.7,12.44,22.1,11.61,27.8,11.91,33.3,12.11,28.4,13.15,26.7,13.36,27.5,14.27,27.3,14.62,19.8,14.92,21.4,15.64,24,15.65,20.4,15.77,19.2,16.5,20.6];
// Extra estimates for the dense orange mass of panel (b).
const orangeDots2 = [3.56,122.4,3.72,127.6,3.9,120.6,3.62,116.7,3.76,113.4,3.94,111.2,4.12,116.8,4.36,110.7,4.08,101.6,4.34,99.7,4.24,96.4,4.42,95.4,4.62,101.4,4.78,94.7,4.94,101.6,5.06,88.7,5.18,92.4,5.32,83.6,4.4,88.6,4.52,84.2,4.72,82.6,4.96,86.7,5.08,73.6,5.38,78.4,5.52,74.6,5.72,77.4,5.86,66.7,6.02,79.6,6.16,72.4,6.24,66.7,6.42,70.6,6.58,72.6,6.72,68.7,6.84,73.6,7.02,69.2,7.24,62.7,7.38,66.7,7.58,64.6,7.72,61.4,8.04,66.7,8.16,60.7,8.42,62.4,8.68,64.4,5.46,67.6,5.7,65.2,5.94,62.7,6.22,58.6,6.5,58.6,6.8,54.6,7.22,54.7,7.62,52.4,8.12,55.6,8.36,50.4,8.82,50.6,9.12,46.4,9.46,47.4,9.76,52.4,10.14,50.8,10.46,43.6,10.84,50.7,11.24,44.7,11.62,45.4,12.06,43.2,12.32,40.4,12.98,39.7,13.6,36.4,14.16,38.7,14.74,34.8,15.52,35.2,16.08,35.4,16.7,35.4,17.12,34.2,4.56,73.6,4.38,76.7,5.02,59.6,5.72,57.8,6.26,48.7,7.82,47.6];
const purpleDots = [2.02,187.8,2.03,182,1.47,175.9,1.59,177.1,1.63,175.3,1.71,175.6,1.88,175.3,2.19,175,1.8,168.8,2.12,167.7,1.6,163.3,2.3,164.2,1.9,162.5,1.94,161.5,2.1,162.2,2.35,160.7,1.85,157.2,2.24,156.6,2.06,153.7,2.02,152,2.53,150.2,2.64,150,1.8,147.8,2.3,147.8,2.53,147.5,1.85,146,2.82,145.3,1.53,143.2,1.93,143.7,1.9,141.6,2.18,143.2,2.22,140.5,2.02,140.5,3.2,142,3.22,140,2.61,137.9,2.11,137.5,2.35,134.6,2.27,133.2,2,125.7,2.3,125.1,2.14,118.8,2.06,117.6,2.49,116.7,2.69,117.6,2.77,118.2,2.04,110.1,2.26,110.7,2.51,112.4,3.04,123.4,3.08,122.8,2.92,121.6,3.16,121.6,3.36,123.1,2.85,114.1,2.99,114.1,2.89,113,2.73,107.8,2.61,106.1,2.49,105.5,2.49,103.4,3.25,110.7,3.16,108.7,2.44,100.6,2.65,101.2,2.82,100.6,2.56,97.8,2.73,97.5,2.81,97.7,3,99.2,3.12,97.2,3.44,95.2,3.59,94.8,2.61,92.9,2.65,90.6,2.81,91.7,2.85,90,3.04,91.5,3.24,91.1,3.28,89.6,2.77,87.5,2.92,87.1,2.87,85.7,3.11,86.5,3.47,87.3,3.63,88.8,3.83,88.3,2.47,82.2,2.63,79.3,2.73,81.4,2.81,81.9,3.2,80.2,3.3,81.1,3.36,78.8,3.2,77.1,3.24,75,3.45,75.6,3.36,74.7,3,73.3,3.18,66.7,3.32,66.2,3.04,62.9,3.44,59.3,3.71,60.4,3.77,54.7,3.99,58.7,4.05,57.2,4.24,59.5,4.26,57.2,4.06,47.6,4.14,50.3,4.24,52.4,4.34,49.4,4.39,44.5,4.46,42.2,4.65,45.5,4.67,43.2,4.58,41.3,4.98,43.7,5.09,44.2,4.98,41.1,5.32,39.7,4.99,49.1,5.13,51.7,5.2,52,3.67,81.9,3.83,81.4,3.95,80.2,4.1,82.5,4.18,80.2,4.26,76.8,4.06,77.9,4.18,74.5,4.38,76.8,4.42,84.8,4.54,83.7,4.65,85.4,4.97,83.7,4.89,82.5,5.09,80.2,5.36,75,5,71,4.79,72.2,4.54,69.9,4.42,68.7,4.03,69.9,4.06,67.5,3.95,65.8,3.83,69.9,3.75,69.9,3.63,72.2,4.26,67.5,4.22,63.5,4.42,62.9,4.54,61.8,4.65,60.6,4.81,58.3,5.05,58.3,4.93,56,4.81,53.7,4.69,59.5,4.3,60,4.77,68.1,5.2,65.8,5.36,59.5,5.52,58.9,5.64,56,5.72,57.2,5.83,60,5.95,58.9,5.91,63.5,6.07,62.9,6.23,63.5,6.28,60.6,6.3,67,5.79,66.4,5.64,69.3,5.56,68.1,5.99,77,5.6,79.6,5.4,84.8,5.32,90,4.99,92.6,4.73,90.9,4.5,87.7,4.58,96.3,4.22,101.5,4.03,102,3.62,102.6,3.46,100.3,3.47,98.6,3.77,98,3.79,92.9,3.87,90.6,4.03,92.3,4.22,90.2,4.06,90,4.18,95.2,4.14,94,6.11,53.7,6.23,51.7,6.3,53.7,6.5,54.9,6.75,52,5.52,48,5.68,47.6,5.83,49.1,5.91,50.3,6.07,52,5.44,44.2,5.62,44.2,5.79,44.5,5.74,42.8,5.56,42.2,5.99,41.7,6.11,41.1,6.23,40.5,6.33,39.9,6.48,40.5,6.66,40.5,6.08,45.9,6.23,47.1,6.34,44.5,6.53,49.1,6.66,45.1,6.89,44.5,6.86,39.9,6.97,38.8,6.45,35.1,6.74,37.6,6.78,36.2,6.96,33,7.19,47.1,7.19,44.8,7.29,56.6,7.34,53.7,7.37,37.6,7.56,39.9,7.55,36.2,7.51,33,7.54,31.1,7.77,21.7,7.84,36.2,8.01,34.8,8.15,38,8.15,28.4,8.23,27.6,8.37,30.7,8.41,25.5,7.56,49.4,7.52,48,7.72,52.6,7.72,46.8,8.02,52.6,8.07,46.3,8.07,61.2,8.23,60.9,8.27,43.4,7.7,59.5,7.52,60.6,6.86,66.4,7.37,70.2,8.78,63.2,9.65,54.5,9.26,49.6,9.33,47.4,8.98,45.9,8.69,49.7,8.61,46,8.73,45.1,8.77,44,8.73,42.8,8.53,41.7,8.45,39.9,9.16,39,9.34,40.5,9.58,38.8,9.43,44.2,9.85,44.2,9.73,40.9,10.31,41.4,9.32,36.2,9.71,34.5,9.75,36.5,9.91,34.2,10.46,36.8,9,31.5,9.28,32.7,8.79,30.6,8.53,33.9,8.53,33,9.95,30.5,10.38,31,10.24,28.3,10.34,25.5,10.51,24.3,10.68,28.9,10.91,29.6,11.24,30.4,11.52,32.4,11.73,33,12.07,33,9.14,26.6,9.1,23.7,8.62,26.2,8.57,23.2,8.45,25.5,9.71,23.8,9.71,18.9,11.84,18.9,12.58,18.6,14.32,19.2,17.15,18.5,13.42,14.4,13.62,14,13.35,20.7,13.13,22.6,12.17,21.4,11.92,24.3,11.75,25.8,11.83,27.8,11.38,52.6,13.55,47.6,13.86,46.6,10.93,44.2,10.95,42.8,11.08,38.5,11.18,35,12.2,41.5,12.5,42.2,12.81,39.2,12.59,36.5,12.34,31,12.54,30,12.68,30.6,13.05,31,12.02,29.5,12.23,28.4,12.48,27.3,12.73,26.1,12.85,26.4,12.9,27.7,13.26,28.3,13.66,27.8,14.01,40.2,14.58,38.2,14.21,33.9,14.21,33,14.04,30.5,14.05,28.4,14.36,29.3,14.2,25.8,14.73,27.8,14.83,27.2,15.3,37,15.3,28.3,15.91,30.7,16.15,29,15.91,26.7,16.28,21.7,16.97,28.4,16.96,26.1,17.6,31.2];
// Extra estimates for the dense purple mass of panel (b).
const purpleDots2 = [3.52,84.6,3.58,79.6,3.74,76.4,3.88,73.6,4.02,72.7,4.16,70.6,4.32,72.4,4.48,73.6,4.62,66.7,4.74,63.6,4.88,61.4,5.02,62.7,5.14,60.6,3.96,62.7,4.12,61.4,4.4,57.8,4.56,55.6,4.72,56.8,4.84,50.4,5.32,55.4,5.42,50.4,5.76,52.4,5.28,47.4,5.68,39.8,5.92,44.7,6.38,47.4,6.68,55.6,7.04,41.6,7.26,42.6,7.42,44.2,7.82,42.6,8.34,47.7,8.5,36.7,8.86,36.4,3.42,69.7,3.54,66.7,3.66,64.6,3.82,64.2,3.26,71.6,3.02,86.6,2.94,92.6,3.36,94.7,3.54,91.4,3.94,85.6,4.3,79.4,4.76,77.6,4.36,65.4,4.98,75.4,5.28,70.6,2.32,120.4,2.56,124.4,2.76,127.6,2.4,131.6,2.64,129.2,3.06,112.6,2.66,110.2];
const fitGreenX = [1.89,2.08,2.22,2.47,2.73,3,3.24,3.55,3.87,4.18,4.54,4.89,5.28,5.72,6.13,6.58,7.05,7.57,8.04,8.73,9.12,9.67,10.22,10.77,11.36,11.95,12.54,13.13,13.72,14.3,14.9,15.5,16.07,16.66,17.25,17.93];
const fitGreenY = [191,185,180.6,173,166,157.8,150.8,143,136,129.6,122.5,116.5,109.5,103.2,97.7,92,87,82.5,78,73.3,70.4,67.2,64.4,62,59.5,57.5,55.8,54.3,53.2,52,51,50,49.4,48.8,48.2,47.6];
const fitOrangeX = [1.27,1.43,1.59,1.78,2.02,2.3,2.53,2.77,3,3.24,3.56,3.83,4.07,4.34,4.66,4.97,5.44,5.91,6.34,6.82,7.33,7.8,8.35,8.96,9.51,10.1,10.69,11.28,11.87,12.46,13.05,13.64,14.23,14.82,15.4,16,16.58,17.2,17.84];
const fitOrangeY = [211,204.8,195.2,184.7,174,163,154.3,145,136.7,130.3,119.3,111.3,106.7,100.9,94,88.3,80.2,73.3,68.7,63.5,59.1,55.5,51.4,48.9,46.4,44.3,42.5,41.1,39.7,38.8,38,37.3,36.7,36.2,35.8,35.6,35.3,35.1,34.9];
const fitBlackX = [1.49,1.57,1.67,1.76,1.86,1.98,2.12,2.28,2.41,2.65,2.92,3.12,3.44,3.67,4.06,4.34,4.81,5.13,5.64,6.11,6.62,7.17,7.73,8.35,8.92,9.51,10.1,10.69,11.28,11.87,12.5,13.09,13.68,14.26,14.85,15.48,16.07,16.66,17.49];
const fitBlackY = [175,168.9,163.9,158.4,152.5,147.2,139.6,131.5,126.2,115.9,105.5,100.3,90.6,84.8,76.2,71,63,58.9,52.6,49.1,46.3,43.2,40.5,38.8,37.6,36.5,35.7,35,34.5,34.2,33.9,33.7,33.6,33.5,33.4,33.3,33.3,33.1,33];
const xTicksB = [0,5,10,15,20];
const yTicksB = [0,50,100,150,200,250,300];

const SVGNS = 'http://www.w3.org/2000/svg';
const xA = v => 370 + v * 15.916;
const yA = v => 1828 - v * 7.064;
const xB = v => 328.5 + v * 83.86;
const yB = v => 4121 - v * 5.993;
const yC = v => 752.5 - v * 21;

function tempColor(t) {
  const stops = [[0,128,0,255],[3.5,0,0,255],[6.5,0,144,255],[9.7,0,255,255],[16.7,0,255,0],[23.3,255,255,0],[25.5,255,165,0],[30,255,0,0]];
  for (let i = 1; i < stops.length; i++) {
    if (t <= stops[i][0]) {
      const a = stops[i-1], b = stops[i], f = (t - a[0]) / (b[0] - a[0]);
      return 'rgb(' + [1,2,3].map(k => Math.round(a[k] + (b[k] - a[k]) * f)).join(',') + ')';
    }
  }
  return 'rgb(255,0,0)';
}

function drawDots(parent, pairs, fx, fy, color, r) {
  for (let i = 0; i + 1 < pairs.length; i += 2) {
    const el = document.createElementNS(SVGNS, 'circle');
    el.setAttribute('cx', fx(pairs[i]).toFixed(1));
    el.setAttribute('cy', fy(pairs[i + 1]).toFixed(1));
    el.setAttribute('r', r);
    el.setAttribute('fill', color);
    
    
    parent.appendChild(el);
  }
}

function rule(parent, x1, y1, x2, y2, w) {
  const el = document.createElementNS(SVGNS, 'line');
  el.setAttribute('x1', x1);
  el.setAttribute('y1', y1);
  el.setAttribute('x2', x2);
  el.setAttribute('y2', y2);
  el.setAttribute('stroke', '#000');
  el.setAttribute('stroke-width', w);
  
  
  parent.appendChild(el);
}

function label(parent, x, y, str, anchor) {
  const el = document.createElementNS(SVGNS, 'text');
  el.setAttribute('x', x);
  el.setAttribute('y', y);
  el.setAttribute('text-anchor', anchor);
  
  
  el.textContent = str;
  parent.appendChild(el);
}

function drawAxes(parent, xTicks, yTicks, fx, fy, xMax, yMax, xLabelY, yLabelX) {
  const L = fx(0), R = fx(xMax), B = fy(0), T = fy(yMax), len = 41.5;
  rule(parent, L, T, R, T, 3.5);
  rule(parent, L, B, R, B, 3.5);
  rule(parent, L, T, L, B, 3.5);
  rule(parent, R, T, R, B, 3.5);
  xTicks.forEach(v => {
    rule(parent, fx(v), T - len, fx(v), T, 3.5);
    rule(parent, fx(v), B, fx(v), B + len, 3.5);
    label(parent, fx(v), xLabelY, String(v), 'middle');
  });
  yTicks.forEach(v => {
    rule(parent, L - len, fy(v), L, fy(v), 3.5);
    rule(parent, R, fy(v), R + len, fy(v), 3.5);
    label(parent, yLabelX, fy(v) + 21, String(v), 'end');
  });
}

function drawFit(parent, xs, ys, color) {
  const el = document.createElementNS(SVGNS, 'polyline');
  el.setAttribute('points', xs.map((v, i) => xB(v).toFixed(1) + ',' + yB(ys[i]).toFixed(1)).join(' '));
  el.setAttribute('fill', 'none');
  el.setAttribute('stroke', color);
  el.setAttribute('stroke-width', 12);
  el.setAttribute('stroke-dasharray', '40 24 12.5 24');
  
  
  parent.appendChild(el);
}

const gA = document.getElementById('dotsA');
[[t30,30],[t28,28],[t26,26],[t24,23.5],[t21,20.5],[t17,16.5],[t17c,16.5],[t12,12.5],[t10,10],[t7,7],[t4,3.8],[t1,1],[t7b,7],[t4b,3.8],[t1b,1.2]].forEach(g => drawDots(gA, g[0], xA, yA, tempColor(g[1]), 7.9));
drawDots(gA, t17b, xA, yA, tempColor(16.5), 7.9);
drawAxes(document.getElementById('axesA'), xTicksA, yTicksA, xA, yA, 100, 250, 1950, 308);

const gC = document.getElementById('cbar');
cbarTicks.forEach(v => {
  rule(gC, 1697.4, yC(v), 1744, yC(v), 3.5);
  label(gC, 1768, yC(v) + 21, String(v), 'start');
});

const gB = document.getElementById('dotsB');
drawDots(gB, greenDots, xB, yB, '#00ff00', 7.5);
drawDots(gB, greenDots2, xB, yB, '#00ff00', 7.5);
drawFit(gB, fitGreenX, fitGreenY, '#0a960a');
drawDots(gB, orangeDots, xB, yB, '#ffa500', 7.5);
drawDots(gB, orangeDots2, xB, yB, '#ffa500', 7.5);
drawFit(gB, fitOrangeX, fitOrangeY, '#cc4400');
drawDots(gB, purpleDots, xB, yB, '#8a2be2', 7.5);
drawDots(gB, purpleDots2, xB, yB, '#8a2be2', 7.5);
drawFit(gB, fitBlackX, fitBlackY, '#000');
drawAxes(document.getElementById('axesB'), xTicksB, yTicksB, xB, yB, 20, 300, 4240, 267);
</script>
</body>
</html>
